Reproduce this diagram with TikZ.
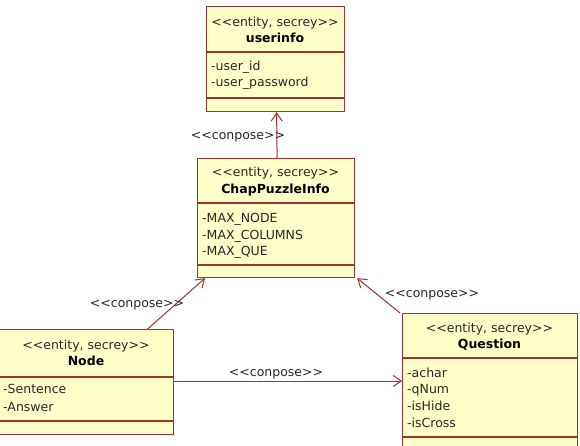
\documentclass[tikz,border=0pt]{standalone}
\usepackage{fontspec}
\setmainfont{DejaVu Sans}[Ligatures=TeXOff]
\usetikzlibrary{arrows.meta}
\definecolor{umlfill}{RGB}{255,255,200}
\definecolor{umlred}{RGB}{160,50,50}
\definecolor{umltext}{RGB}{40,40,40}
\tikzset{
  clsbox/.style={draw=umlred, fill=umlfill, line width=1.2pt, rectangle, inner sep=0pt, anchor=north west},
  divline/.style={draw=umlred, line width=1.2pt},
  stereo/.style={font=\fontsize{12.5}{15}\selectfont, text=umltext, inner sep=0pt, anchor=base},
  clsname/.style={font=\fontsize{12.5}{15}\selectfont\bfseries, text=black, inner sep=0pt, anchor=base},
  attr/.style={font=\fontsize{12.5}{15}\selectfont, text=umltext, inner sep=0pt, anchor=base west},
  lbl/.style={font=\fontsize{12.5}{15}\selectfont, text=umltext, inner sep=0pt, anchor=base},
  conn/.style={draw=umlred, line width=1pt, -{Straight Barb[length=8pt,width=11pt,line width=1pt]}},
}
\begin{document}
\begin{tikzpicture}[x=1pt,y=-1pt]
\useasboundingbox (0,0) rectangle (580,446);
\fill[white] (0,0) rectangle (580,446);
% class boxes
\node[clsbox, minimum width=138pt, minimum height=105pt] (userinfo) at (206,6) {};
\node[clsbox, minimum width=157pt, minimum height=119pt] (chap) at (197,158) {};
\node[clsbox, minimum width=174pt, minimum height=105pt] (nodecls) at (-1,329) {};
\node[clsbox, minimum width=175pt, minimum height=140pt] (question) at (402,313) {};
% dividers
\draw[divline] (206,52) -- (344,52);
\draw[divline] (206,98) -- (344,98);
\draw[divline] (197,203) -- (354,203);
\draw[divline] (197,265) -- (354,265);
\draw[divline] (-1,377) -- (173,377);
\draw[divline] (-1,421) -- (173,421);
\draw[divline] (402,358) -- (577,358);
\draw[divline] (402,437) -- (577,437);
% userinfo texts
\node[stereo] (u1) at (275,26.5) {<<entity, secrey>>};
\node[clsname] (u2) at (275,42.5) {userinfo};
\node[attr] (u3) at (211,70.5) {-user\_id};
\node[attr] (u4) at (211,86.5) {-user\_password};
% chap texts
\node[stereo] (c1) at (275.5,176.5) {<<entity, secrey>>};
\node[clsname] (c2) at (275.5,193.5) {ChapPuzzleInfo};
\node[attr] (c3) at (202,222.5) {-MAX\_NODE};
\node[attr] (c4) at (202,239.5) {-MAX\_COLUMNS};
\node[attr] (c5) at (202,255.5) {-MAX\_QUE};
% node texts
\node[stereo] (n1) at (86,349.5) {<<entity, secrey>>};
\node[clsname] (n2) at (86,365.5) {Node};
\node[attr] (n3) at (3,393.5) {-Sentence};
\node[attr] (n4) at (3,411) {-Answer};
% question texts
\node[stereo] (q1) at (489.5,332) {<<entity, secrey>>};
\node[clsname] (q2) at (489.5,348) {Question};
\node[attr] (q3) at (407,377.5) {-achar};
\node[attr] (q4) at (407,393.5) {-qNum};
\node[attr] (q5) at (407,410.5) {-isHide};
\node[attr] (q6) at (407,427.5) {-isCross};
% connectors
\draw[conn] ([xshift=1pt]chap.north) -- ([xshift=1pt]userinfo.south);
\draw[conn] ([xshift=61pt]nodecls.north) -- ([xshift=8pt]chap.south west);
\draw[conn] ([xshift=-2pt]question.north west) -- ([xshift=2pt]chap.south east);
\draw[conn] (nodecls.east |- 0,381) -- (question.west |- 0,381);
% labels
\node[lbl] (l1) at (238,140) {<<conpose>>};
\node[lbl] (l2) at (137,307) {<<conpose>>};
\node[lbl] (l3) at (432,297) {<<conpose>>};
\node[lbl] (l4) at (276,376) {<<conpose>>};
\end{tikzpicture}
\end{document}
